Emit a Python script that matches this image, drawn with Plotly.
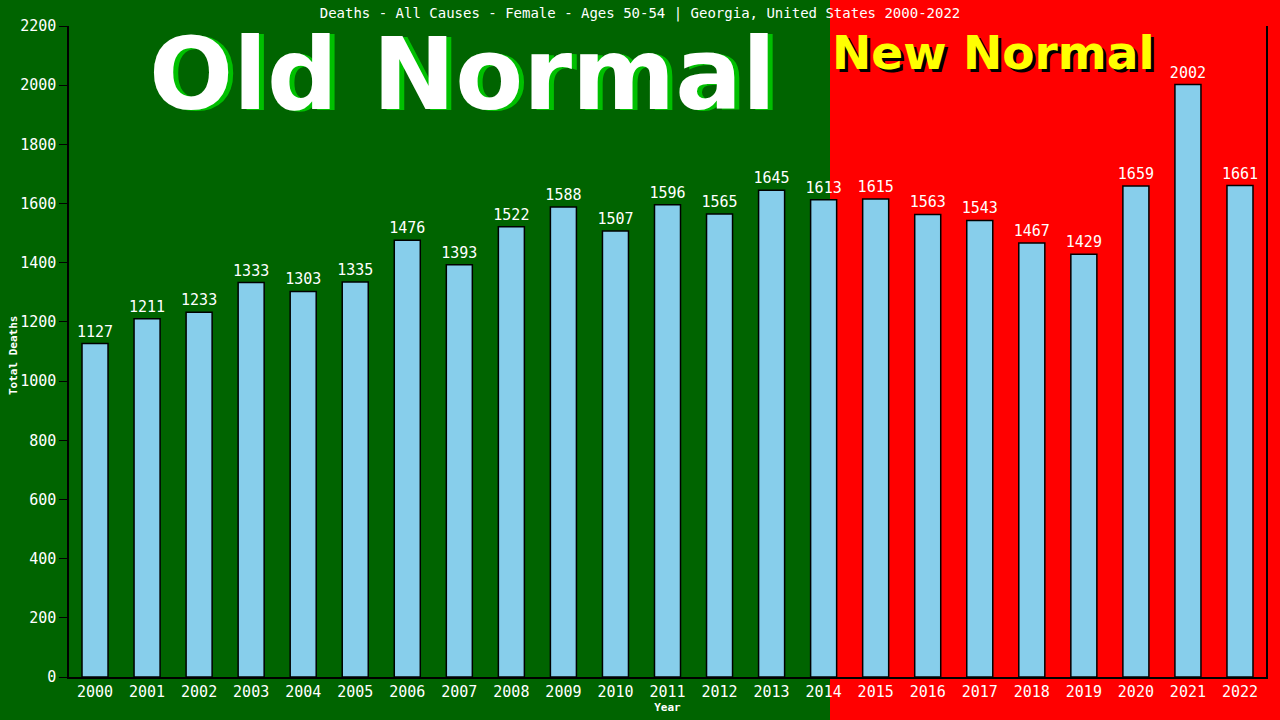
import plotly.graph_objects as go

years = [str(y) for y in range(2000, 2023)]
deaths = [1127, 1211, 1233, 1333, 1303, 1335, 1476, 1393, 1522, 1588, 1507, 1596,
          1565, 1645, 1613, 1615, 1563, 1543, 1467, 1429, 1659, 2002, 1661]
title_text = "Deaths - All Causes - Female - Ages 50-54 | Georgia, United States 2000-2022"

mono = "DejaVu Sans Mono"

fig = go.Figure()
fig.add_trace(go.Bar(
    x=years, y=deaths, width=0.5,
    marker=dict(color="#87CEEB", line=dict(color="black", width=1.5)),
    text=[str(v) for v in deaths], textposition="outside", constraintext="none",
    textfont=dict(color="white", family=mono, size=15),
    cliponaxis=False,
))

L, R, T, B = 69, 14, 26, 43
W, H = 1280, 720
pw, ph = W - L - R, H - T - B

def px2paper_x(px):
    return (px - L) / pw

def px2paper_y(py):
    return (H - B - py) / ph

fig.add_shape(type="rect", xref="paper", yref="paper",
              x0=px2paper_x(830), x1=px2paper_x(1285),
              y0=px2paper_y(725), y1=px2paper_y(-5),
              fillcolor="#FF0000", line=dict(width=0), layer="below")

def label(text, cx, cy, size, color, family="DejaVu Sans", angle=0):
    fig.add_annotation(text=text, xref="paper", yref="paper",
                       x=px2paper_x(cx), y=px2paper_y(cy), textangle=angle,
                       xanchor="center", yanchor="middle", showarrow=False,
                       font=dict(family=family, size=size, color=color))

label("<b>Old Normal</b>", 467, 76, 99, "#00C000")
label("<b>Old Normal</b>", 462, 74, 99, "white")
label("<b>New Normal</b>", 996, 55, 47, "black")
label("<b>New Normal</b>", 993, 52, 47, "#FFFF00")
label("<b>Total Deaths</b>", 13, 356, 11, "white", family=mono, angle=-90)

fig.update_layout(
    width=W, height=H,
    margin=dict(l=L, r=R, t=T, b=B, autoexpand=False),
    paper_bgcolor="#006400", plot_bgcolor="rgba(0,0,0,0)",
    showlegend=False,
    title=dict(text=title_text, x=0.5, xanchor="center", y=1 - 13 / H, yanchor="middle",
               font=dict(family=mono, size=14, color="white")),
    xaxis=dict(type="category", range=[-0.5, 22.5], showgrid=False, showline=True,
               linecolor="black", linewidth=1.5, ticks="", automargin=False,
               tickfont=dict(family=mono, size=15, color="white"),
               title=dict(text="<b>Year</b>", font=dict(family=mono, size=11, color="white"),
                          standoff=4)),
    yaxis=dict(range=[0, 2200], dtick=200, showgrid=False, showline=True, mirror=True,
               linecolor="black", linewidth=1.5, ticks="outside", ticklen=8, tickcolor="black",
               zeroline=False, automargin=False,
               tickfont=dict(family=mono, size=15, color="white")),
    bargap=0.5,
)

fig.write_html("out.html", post_script="document.body.style.margin='0';",
               config={"displayModeBar": False})
